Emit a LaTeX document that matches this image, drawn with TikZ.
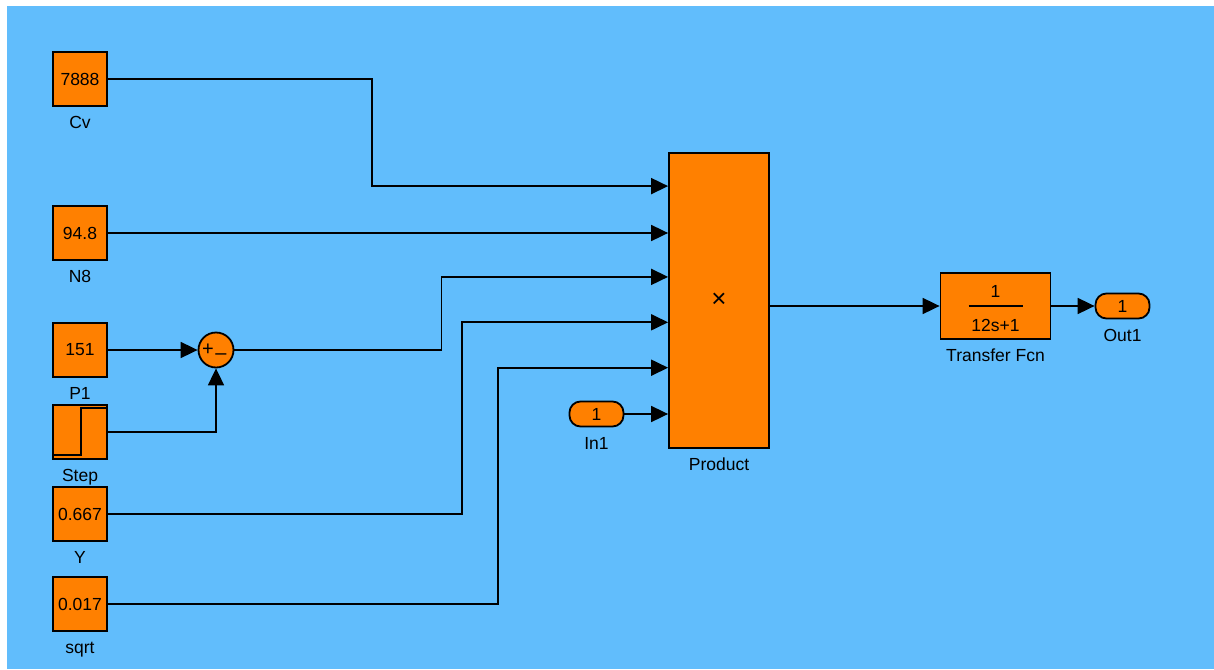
\documentclass[tikz,border=0pt]{standalone}
\usepackage{fontspec}
\setmainfont{Liberation Sans}
\usetikzlibrary{arrows.meta,calc}
\definecolor{simblue}{RGB}{97,189,252}
\definecolor{simorange}{RGB}{255,128,0}

\begin{document}
\begin{tikzpicture}[x=1pt,y=-1pt,
  font=\fontsize{17.5}{19}\selectfont,
  blk/.style={draw,line width=1.8pt,fill=simorange,inner sep=0pt},
  cst/.style={blk,minimum width=54pt,minimum height=54pt},
  lbl/.style={label={[inner sep=0pt,text height=12.5pt,text depth=3pt,label distance=9pt]below:#1}},
  port/.style={blk,rounded corners=11pt,minimum width=54pt,minimum height=25pt},
  sig/.style={line width=1.8pt,-{Triangle[length=17pt,width=16pt]}}]
\useasboundingbox (0,0) rectangle (1214,669);
\fill [white] (0,0) rectangle (1214,669);
\fill [simblue] (7,6) rectangle (1214,669);
% sources
\node [cst,lbl=Cv] (cv) at (80,79) {7888};
\node [cst,lbl=N8] (neight) at (80,233) {94.8};
\node [cst,lbl=P1] (pone) at (80,350) {151};
\node [cst,lbl=Step] (stepblk) at (80,432) {};
\draw [line width=1.5pt] ($(stepblk.south west)+(0,-5)$) -| ($(stepblk.north)+(1,4)$) -- ($(stepblk.north east)+(0,4)$);
\node [cst,lbl=Y] (cy) at (80,514) {0.667};
\node [cst,lbl=sqrt] (sqrt) at (80,604) {0.017};
% sum
\node [blk,circle,minimum size=35pt] (sum) at (216,350) {};
\node [inner sep=0pt,font=\fontsize{20}{20}\selectfont] (splus) at (208,350) {+};
\node [inner sep=0pt,font=\fontsize{20}{20}\selectfont] (sminus) at (221,357) {--};
% product and the rest
\node [blk,minimum width=100pt,minimum height=295pt,lbl=Product,font=\fontsize{26}{26}\selectfont] (prod) at (719,300.5) {×};
\foreach \k in {1,...,6}
  \coordinate (pin\k) at ($(prod.north west)+(0,{34+(\k-1)*45.4})$);
\node [port,lbl=In1] (inone) at (596.5,414) {1};
\node [blk,minimum width=110pt,minimum height=66pt,lbl=Transfer Fcn] (tf) at (995.5,306) {};
\node [inner sep=0pt] (tfnum) at ($(tf)+(0,-15)$) {1};
\draw [line width=1.2pt] ($(tf)+(-27,0)$) -- ($(tf)+(27,0)$);
\node [inner sep=0pt] (tfden) at ($(tf)+(0,19)$) {12s+1};
\node [port,lbl=Out1] (outone) at (1122.5,306) {1};
% signals
\draw [sig] (cv.east) -- ++(264,0) |- (pin1);
\draw [sig] (neight.east) -- (neight.east -| prod.west);
\draw [sig] (pone.east) -- (sum.west);
\draw [sig] (stepblk.east) -| (sum.south);
\draw [sig] (sum.east) -- ++(207,0) |- (pin3);
\draw [sig] (cy.east) -- ++(354,0) |- (pin4);
\draw [sig] (sqrt.east) -- ++(390,0) |- (pin5);
\draw [sig] (inone.east) -- (inone.east -| prod.west);
\draw [sig] (prod.east |- tf.west) -- (tf.west);
\draw [sig] (tf.east) -- (outone.west);
\end{tikzpicture}
\end{document}
